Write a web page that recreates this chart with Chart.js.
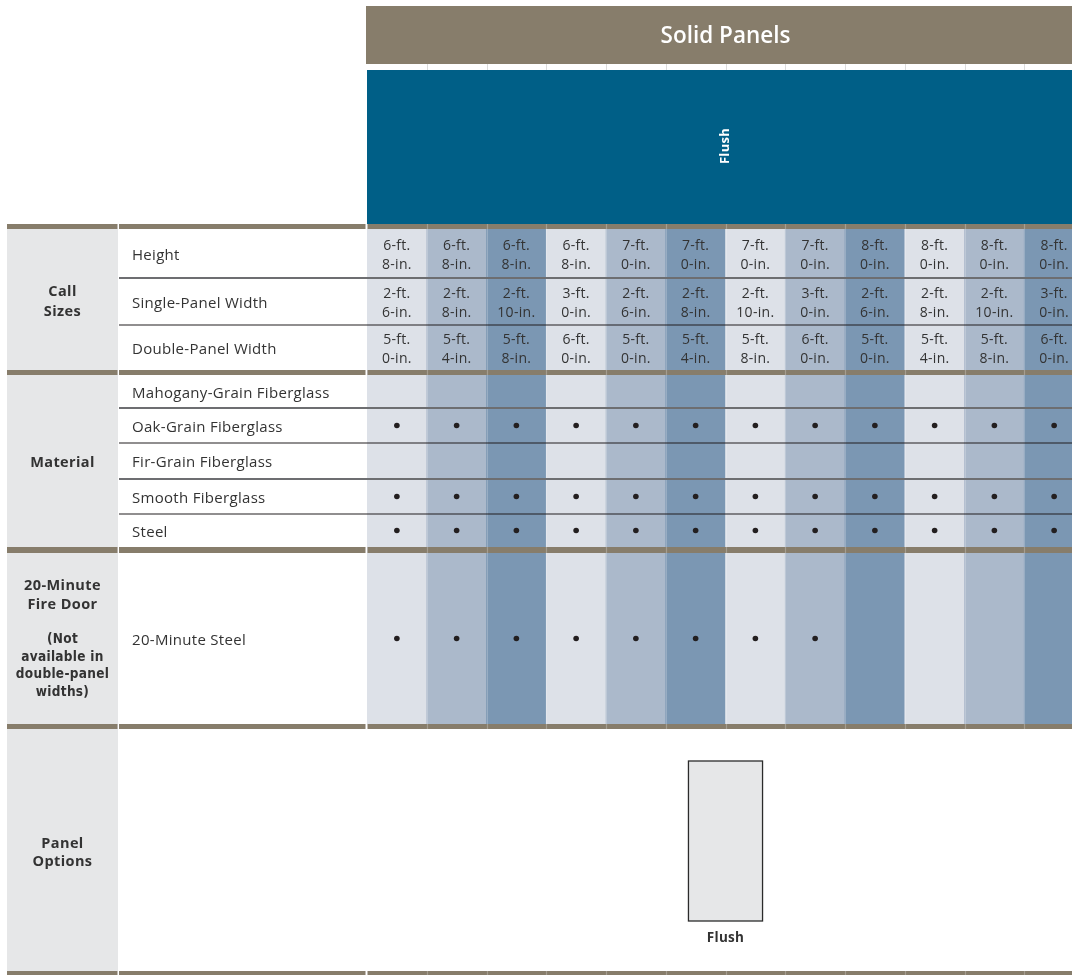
<!DOCTYPE html>
<html>
<head>
<meta charset="utf-8">
<script src="https://cdn.jsdelivr.net/npm/chart.js@4.4.1/dist/chart.umd.min.js"></script>
<style>
    html, body { margin: 0; padding: 0; background: #ffffff; overflow: hidden; }
    #wrap { width: 1084px; height: 975px; }
</style>
</head>
<body>
<div id="wrap"><canvas id="doorChart" width="1084" height="975"></canvas></div>
<script>
// ---- table content ----
const heightFt = ['6-ft.', '6-ft.', '6-ft.', '6-ft.', '7-ft.', '7-ft.', '7-ft.', '7-ft.', '8-ft.', '8-ft.', '8-ft.', '8-ft.'];
const heightIn = ['8-in.', '8-in.', '8-in.', '8-in.', '0-in.', '0-in.', '0-in.', '0-in.', '0-in.', '0-in.', '0-in.', '0-in.'];
const singleFt = ['2-ft.', '2-ft.', '2-ft.', '3-ft.', '2-ft.', '2-ft.', '2-ft.', '3-ft.', '2-ft.', '2-ft.', '2-ft.', '3-ft.'];
const singleIn = ['6-in.', '8-in.', '10-in.', '0-in.', '6-in.', '8-in.', '10-in.', '0-in.', '6-in.', '8-in.', '10-in.', '0-in.'];
const doubleFt = ['5-ft.', '5-ft.', '5-ft.', '6-ft.', '5-ft.', '5-ft.', '5-ft.', '6-ft.', '5-ft.', '5-ft.', '5-ft.', '6-ft.'];
const doubleIn = ['0-in.', '4-in.', '8-in.', '0-in.', '0-in.', '4-in.', '8-in.', '0-in.', '0-in.', '4-in.', '8-in.', '0-in.'];

const sizeRowLabels = ['Height', 'Single-Panel Width', 'Double-Panel Width'];
const materialLabels = ['Mahogany-Grain Fiberglass', 'Oak-Grain Fiberglass', 'Fir-Grain Fiberglass', 'Smooth Fiberglass', 'Steel'];
const mahogany = [0, 0, 0, 0, 0, 0, 0, 0, 0, 0, 0, 0];
const oakGrain = [1, 1, 1, 1, 1, 1, 1, 1, 1, 1, 1, 1];
const firGrain = [0, 0, 0, 0, 0, 0, 0, 0, 0, 0, 0, 0];
const smooth   = [1, 1, 1, 1, 1, 1, 1, 1, 1, 1, 1, 1];
const steel    = [1, 1, 1, 1, 1, 1, 1, 1, 1, 1, 1, 1];
const fireSteel = [1, 1, 1, 1, 1, 1, 1, 1, 0, 0, 0, 0];

const title = 'Solid Panels';
const styleName = 'Flush';
const fireLabel = '20-Minute Steel';
const panelOption = 'Flush';

// ---- layout (design units, y runs downward) ----
const BROWN = '#877d6b';
const BLUE = '#005f87';
const LEFT_GRAY = '#e6e7e8';
const shades = ['#dde1e8', '#abb9cb', '#7b97b3'];
const TEXT = '#333333';
const SANS = '"Open Sans", "Noto Sans", sans-serif';
const TEXT_NUDGE = 2; // Open Sans sits a little high on 'middle'

const groupCol = [7, 118];
const labelCol = [119, 366];
const titleBand = [6, 64];
const flushBand = [70, 224];
const separators = [[224, 229], [370, 375], [547, 553], [724, 729], [971, 975]];
const sizeBands = [[229, 278], [278, 325], [325, 370]];
const materialBands = [[375, 408], [408, 443], [443, 479], [479, 514], [514, 547]];
const fireBand = [553, 724];
const optionsBand = [729, 971];
const shadeSpan = [229, 724];
const door = { w: 1.24, top: 761, bottom: 921 };

const mid = band => (band[0] + band[1]) / 2;
const columnKeys = heightFt.map((h, i) => `${h} ${heightIn[i]} x ${singleFt[i]} ${singleIn[i]}`);

// dots for available materials
const dotData = [];
[mahogany, oakGrain, firGrain, smooth, steel].forEach((flags, r) => {
    flags.forEach((f, i) => {
        if (f) dotData.push({ x: columnKeys[i], y: mid(materialBands[r]) });
    });
});
fireSteel.forEach((f, i) => {
    if (f) dotData.push({ x: columnKeys[i], y: mid(fireBand) });
});

function text(ctx, str, x, y, font, color, align, spacing) {
    ctx.font = font;
    ctx.fillStyle = color;
    ctx.textAlign = align || 'center';
    ctx.textBaseline = 'middle';
    ctx.letterSpacing = (spacing || 0) + 'px';
    ctx.fillText(str, x, y + TEXT_NUDGE);
    ctx.letterSpacing = '0px';
}

const tablePlugin = {
    id: 'tableDraw',
    beforeDatasetsDraw(chart) {
        const { ctx, scales: { x, y } } = chart;
        const colW = x.getPixelForValue(1) - x.getPixelForValue(0);
        const left = x.getPixelForValue(0) - colW / 2;
        const right = x.getPixelForValue(columnKeys.length - 1) + colW / 2;
        ctx.save();
        // left group column
        ctx.fillStyle = LEFT_GRAY;
        ctx.fillRect(groupCol[0], y.getPixelForValue(229), groupCol[1] - groupCol[0], y.getPixelForValue(971) - y.getPixelForValue(229));
        // title band
        ctx.fillStyle = BROWN;
        ctx.fillRect(left - 1, y.getPixelForValue(titleBand[0]), right - left + 1, y.getPixelForValue(titleBand[1]) - y.getPixelForValue(titleBand[0]));
        // faint column ticks in white gap
        ctx.strokeStyle = '#dcdcdc';
        ctx.lineWidth = 1;
        for (let i = 1; i < columnKeys.length; i++) {
            const bx = Math.round(left + i * colW) + 0.5;
            ctx.beginPath();
            ctx.moveTo(bx, y.getPixelForValue(titleBand[1]));
            ctx.lineTo(bx, y.getPixelForValue(flushBand[0]));
            ctx.stroke();
        }
        // flush header
        ctx.fillStyle = BLUE;
        ctx.fillRect(left, y.getPixelForValue(flushBand[0]), right - left, y.getPixelForValue(flushBand[1]) - y.getPixelForValue(flushBand[0]));
        text(ctx, title, (left + right) / 2, y.getPixelForValue(mid(titleBand)), `600 22.5px ${SANS}`, '#ffffff');
        ctx.save();
        ctx.translate((left + right) / 2 - TEXT_NUDGE, y.getPixelForValue(mid(flushBand)) - 1);
        ctx.rotate(-Math.PI / 2);
        text(ctx, styleName, 0, 0, `bold 13px ${SANS}`, '#ffffff', 'center', 0.3);
        ctx.restore();
        ctx.restore();
    },
    afterDatasetsDraw(chart) {
        const { ctx, scales: { x, y } } = chart;
        const colW = x.getPixelForValue(1) - x.getPixelForValue(0);
        const left = x.getPixelForValue(0) - colW / 2;
        const right = x.getPixelForValue(columnKeys.length - 1) + colW / 2;
        const gx = (groupCol[0] + groupCol[1]) / 2;
        const lx = labelCol[0] + 13;
        ctx.save();

        // faint column seams over shading
        ctx.strokeStyle = 'rgba(255,255,255,0.22)';
        ctx.lineWidth = 1;
        for (let i = 1; i < columnKeys.length; i++) {
            const bx = Math.round(left + i * colW) + 0.5;
            ctx.beginPath();
            ctx.moveTo(bx, y.getPixelForValue(shadeSpan[0]));
            ctx.lineTo(bx, y.getPixelForValue(shadeSpan[1]));
            ctx.stroke();
        }

        // inner row rules, alternating grey / black
        const rule = (yv, dark) => {
            const py = y.getPixelForValue(yv);
            ctx.strokeStyle = dark ? '#231f20' : '#6d6e71';
            ctx.lineWidth = dark ? 1.2 : 2;
            ctx.beginPath();
            ctx.moveTo(labelCol[0], py);
            ctx.lineTo(right, py);
            ctx.stroke();
        };
        rule(sizeBands[0][1], false);
        rule(sizeBands[1][1], true);
        rule(materialBands[0][1], false);
        rule(materialBands[1][1], true);
        rule(materialBands[2][1], false);
        rule(materialBands[3][1], true);

        // brown separators
        separators.forEach(([t, b]) => {
            const py = y.getPixelForValue(t);
            const h = y.getPixelForValue(b) - py;
            ctx.fillStyle = BROWN;
            ctx.fillRect(groupCol[0], py, groupCol[1] - groupCol[0] - 0.5, h);
            ctx.fillRect(labelCol[0], py, labelCol[1] - labelCol[0] - 0.5, h);
            ctx.fillRect(left + 0.5, py, right - left, h);
            ctx.strokeStyle = 'rgba(255,255,255,0.25)';
            for (let i = 1; i < columnKeys.length; i++) {
                const bx = Math.round(left + i * colW) + 0.5;
                ctx.beginPath();
                ctx.moveTo(bx, py);
                ctx.lineTo(bx, py + h);
                ctx.stroke();
            }
        });

        // size cells
        const cellFont = `14px ${SANS}`;
        const labelFont = `15px ${SANS}`;
        const pairs = [[heightFt, heightIn], [singleFt, singleIn], [doubleFt, doubleIn]];
        pairs.forEach(([ft, inch], r) => {
            const cy = y.getPixelForValue(mid(sizeBands[r]));
            columnKeys.forEach((k, i) => {
                const cx = x.getPixelForValue(i);
                text(ctx, ft[i], cx, cy - 9.5, cellFont, TEXT, 'center', 0.3);
                text(ctx, inch[i], cx, cy + 9.5, cellFont, TEXT, 'center', 0.3);
            });
            text(ctx, sizeRowLabels[r], lx, cy, labelFont, TEXT, 'left', 0.3);
        });
        materialLabels.forEach((m, r) => {
            text(ctx, m, lx, y.getPixelForValue(mid(materialBands[r])), labelFont, TEXT, 'left', 0.3);
        });
        text(ctx, fireLabel, lx, y.getPixelForValue(mid(fireBand)), labelFont, TEXT, 'left', 0.3);

        // group labels
        const gFont = `bold 14.5px ${SANS}`;
        const gs = 0.4;
        const sy = y.getPixelForValue(mid([sizeBands[0][0], sizeBands[2][1]]));
        text(ctx, 'Call', gx, sy - 10, gFont, TEXT, 'center', gs);
        text(ctx, 'Sizes', gx, sy + 10, gFont, TEXT, 'center', gs);
        text(ctx, 'Material', gx, y.getPixelForValue(mid([materialBands[0][0], materialBands[4][1]])), gFont, TEXT, 'center', gs);
        const fy = y.getPixelForValue(mid(fireBand));
        text(ctx, '20-Minute', gx, fy - 55, gFont, TEXT, 'center', gs);
        text(ctx, 'Fire Door', gx, fy - 36, gFont, TEXT, 'center', gs);
        const nFont = 'bold 13.5px "DejaVu Sans Condensed", "Liberation Sans Narrow", sans-serif';
        ['(Not', 'available in', 'double-panel', 'widths)'].forEach((s, j) => {
            text(ctx, s, gx, fy - 1 + j * 17.6, nFont, TEXT, 'center', 0.3);
        });
        const oy = y.getPixelForValue(mid(optionsBand));
        text(ctx, 'Panel', gx, oy - 8, gFont, TEXT, 'center', gs);
        text(ctx, 'Options', gx, oy + 10, gFont, TEXT, 'center', gs);

        // panel option drawing
        const dc = x.getPixelForValue((columnKeys.length - 1) / 2);
        const dw = door.w * colW;
        const dt = y.getPixelForValue(door.top);
        const db = y.getPixelForValue(door.bottom);
        ctx.fillStyle = '#e6e7e8';
        ctx.fillRect(dc - dw / 2, dt, dw, db - dt);
        ctx.strokeStyle = '#2b2b2b';
        ctx.lineWidth = 1.3;
        ctx.strokeRect(dc - dw / 2, dt, dw, db - dt);
        text(ctx, panelOption, dc, db + 15, `bold 13.5px ${SANS}`, TEXT, 'center', 0.3);

        ctx.restore();
    }
};

new Chart(document.getElementById('doorChart'), {
    type: 'bar',
    data: {
        labels: columnKeys,
        datasets: [
            {
                type: 'scatter',
                label: 'Available',
                data: dotData,
                pointRadius: 2.8,
                pointBackgroundColor: '#231f20',
                pointBorderWidth: 0,
                order: 0
            },
            {
                label: 'Column shade',
                data: columnKeys.map(() => shadeSpan),
                backgroundColor: columnKeys.map((k, i) => shades[i % 3]),
                borderWidth: 0,
                barPercentage: 1,
                categoryPercentage: 1,
                order: 1
            }
        ]
    },
    options: {
        responsive: false,
        animation: false,
        events: [],
        layout: { autoPadding: false, padding: { left: 367, right: 0, top: 0, bottom: 0 } },
        scales: {
            x: { type: 'category', display: false, offset: true, grid: { display: false } },
            y: { type: 'linear', min: 0, max: 975, reverse: true, display: false }
        },
        plugins: {
            legend: { display: false },
            tooltip: { enabled: false }
        }
    },
    plugins: [tablePlugin]
});
</script>
</body>
</html>
